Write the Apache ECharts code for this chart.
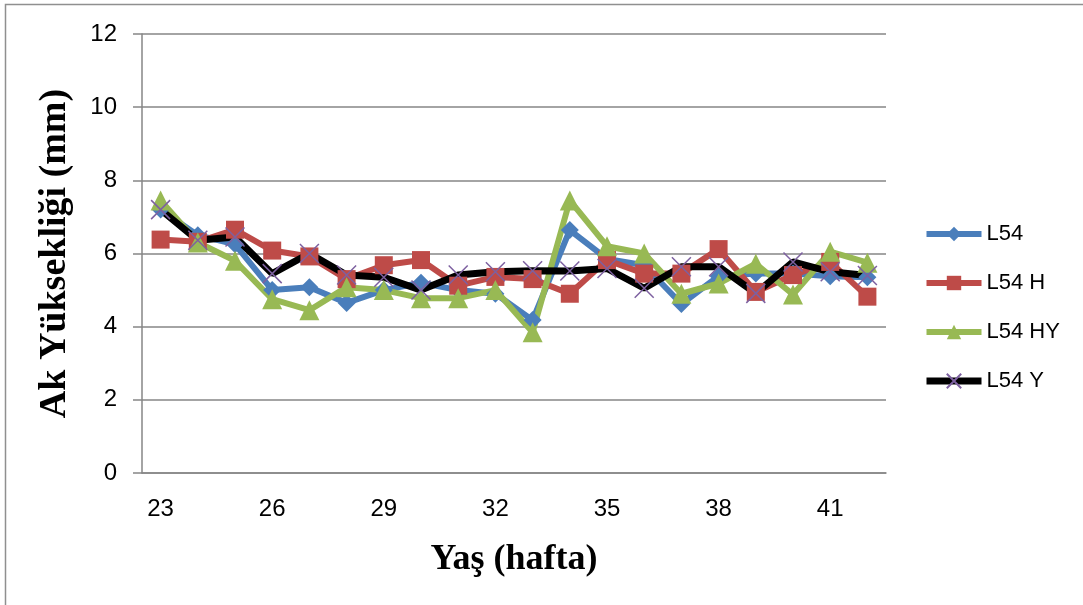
<!DOCTYPE html>
<html>
<head>
<meta charset="utf-8">
<script src="https://cdn.jsdelivr.net/npm/echarts@6/dist/echarts.min.js"></script>
<style>
  html, body { margin: 0; padding: 0; background: #fff; }
  #chart { width: 1083px; height: 605px; }
</style>
</head>
<body>
<div id="chart"></div>
<script>
// Age in weeks (categories)
const weeks = ['23','24','25','26','27','28','29','30','31','32','33','34','35','36','37','38','39','40','41','42'];
// Weeks that carry a visible tick label
const labelledWeeks = ['23','26','29','32','35','38','41'];
// Albumen height (mm) per group
const l54   = [7.2, 6.5, 6.25, 5.0, 5.08, 4.65, 5.0, 5.2, 5.0, 4.9, 4.18, 6.64, 5.85, 5.68, 4.62, 5.38, 5.45, 5.45, 5.38, 5.35];
const l54h  = [6.38, 6.32, 6.65, 6.08, 5.92, 5.3, 5.68, 5.82, 5.12, 5.36, 5.3, 4.9, 5.82, 5.45, 5.45, 6.12, 4.95, 5.41, 5.77, 4.82];
const l54hy = [7.45, 6.3, 5.8, 4.75, 4.45, 5.08, 5.0, 4.78, 4.78, 5.0, 3.85, 7.45, 6.2, 6.0, 4.9, 5.18, 5.72, 4.88, 6.05, 5.75];
const l54y  = [7.2, 6.36, 6.45, 5.45, 6.0, 5.41, 5.35, 5.0, 5.41, 5.5, 5.53, 5.52, 5.59, 5.05, 5.64, 5.64, 4.91, 5.77, 5.5, 5.4];

const gray = '#868686';
const sans = '"Liberation Sans", Arial, sans-serif';
const serif = '"Liberation Serif", "Times New Roman", serif';

const chart = echarts.init(document.getElementById('chart'), null, { renderer: 'canvas' });

// X-shaped marker, stroked through the item border
const crossPath = 'path://M0,0L10,10M10,0L0,10';

chart.setOption({
  animation: false,
  backgroundColor: '#fff',
  graphic: [{
    type: 'rect',
    shape: { x: 5.5, y: 4.5, width: 1100, height: 620 },
    style: { fill: 'none', stroke: '#8f8f8f', lineWidth: 1.5 },
    silent: true
  }],
  grid: { left: 142, right: 197, top: 34, bottom: 132, containLabel: false },
  legend: {
    orient: 'vertical',
    left: 923,
    top: 223,
    padding: 0,
    itemWidth: 55,
    itemHeight: 18,
    itemGap: 27,
    lineStyle: { width: 'inherit' },
    textStyle: { fontFamily: sans, fontSize: 22, color: '#000' },
    data: ['L54', 'L54 H', 'L54 HY', 'L54 Y']
  },
  xAxis: {
    type: 'category',
    data: weeks,
    boundaryGap: true,
    name: 'Yaş (hafta)',
    nameLocation: 'middle',
    nameGap: 69,
    nameTextStyle: { fontFamily: serif, fontWeight: 'bold', fontSize: 36, color: '#000' },
    axisLine: { lineStyle: { color: gray, width: 1.5 } },
    axisTick: { show: false },
    axisLabel: {
      interval: 0,
      margin: 24,
      fontFamily: sans, fontSize: 24, color: '#000',
      formatter: v => labelledWeeks.includes(v) ? v : ''
    },
    splitLine: { show: false }
  },
  yAxis: {
    type: 'value',
    min: 0, max: 12, interval: 2,
    name: 'Ak Yüksekliği (mm)',
    nameLocation: 'middle',
    nameGap: 68,
    nameTextStyle: { fontFamily: serif, fontWeight: 'bold', fontSize: 38, color: '#000' },
    axisLine: { show: true, lineStyle: { color: gray, width: 1.5 } },
    axisTick: { show: true, length: 9, inside: false, lineStyle: { color: gray, width: 1.5 } },
    axisLabel: { margin: 25, fontFamily: sans, fontSize: 24, color: '#000' },
    splitLine: { lineStyle: { color: gray, width: 1.5 } }
  },
  series: [
    {
      name: 'L54', type: 'line', data: l54,
      symbol: 'diamond', symbolSize: 18,
      lineStyle: { color: '#4A7EBB', width: 6 },
      itemStyle: { color: '#4A7EBB' }
    },
    {
      name: 'L54 H', type: 'line', data: l54h,
      symbol: 'rect', symbolSize: 18,
      lineStyle: { color: '#BE4B48', width: 6 },
      itemStyle: { color: '#BE4B48' }
    },
    {
      name: 'L54 HY', type: 'line', data: l54hy,
      symbol: 'triangle', symbolSize: 20,
      lineStyle: { color: '#98B954', width: 6 },
      itemStyle: { color: '#98B954' }
    },
    {
      name: 'L54 Y', type: 'line', data: l54y,
      symbol: crossPath, symbolSize: 19,
      lineStyle: { color: '#000', width: 7 },
      itemStyle: { color: '#7D60A0', borderColor: '#7D60A0', borderWidth: 1.5 }
    }
  ]
});
</script>
</body>
</html>
